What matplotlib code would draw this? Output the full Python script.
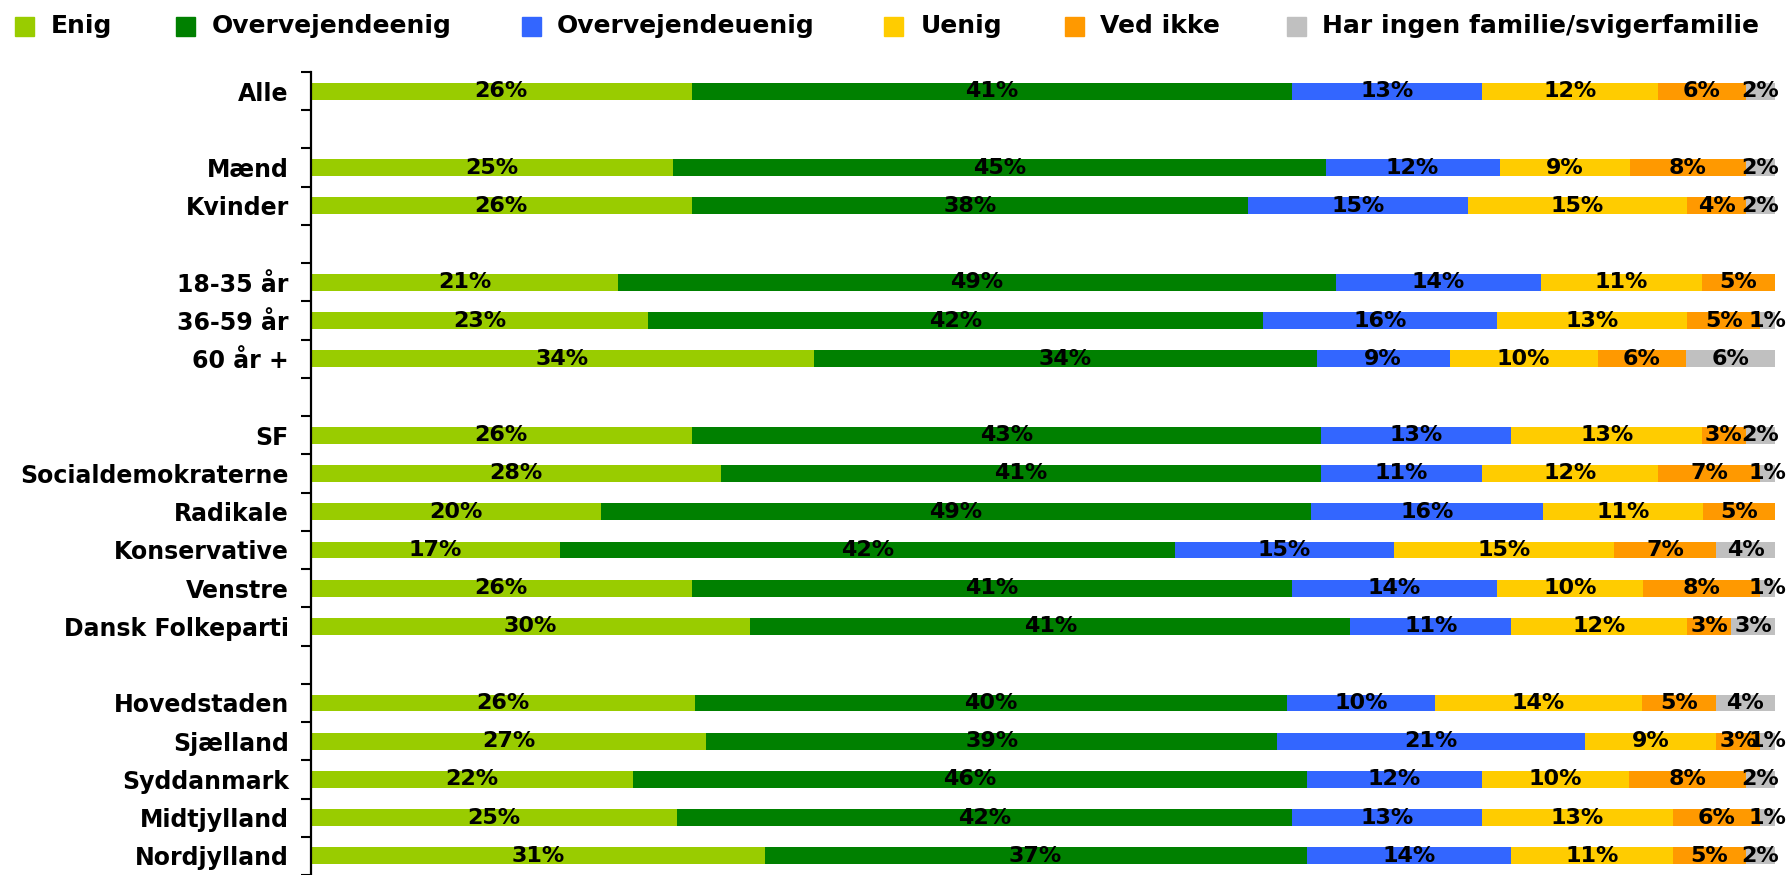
import matplotlib.pyplot as plt
import numpy as np
from matplotlib.patches import Rectangle

plt.rcParams["font.family"] = ["DejaVu Sans"]
plt.rcParams["font.weight"] = "bold"

series = ["Enig", "Overvejendeenig", "Overvejendeuenig", "Uenig", "Ved ikke",
          "Har ingen familie/svigerfamilie"]
colors = ["#99CC00", "#008000", "#3366FF", "#FFCC00", "#FF9900", "#C0C0C0"]

# grupper, adskilt af en tom raekke
groups = [
    ["Alle"],
    ["Mænd", "Kvinder"],
    ["18-35 år", "36-59 år", "60 år +"],
    ["SF", "Socialdemokraterne", "Radikale", "Konservative", "Venstre",
     "Dansk Folkeparti"],
    ["Hovedstaden", "Sjælland", "Syddanmark", "Midtjylland", "Nordjylland"],
]

enig = [26, 25, 26, 21, 23, 34, 26, 28, 20, 17, 26, 30, 26, 27, 22, 25, 31]
overv_enig = [41, 45, 38, 49, 42, 34, 43, 41, 49, 42, 41, 41, 40, 39, 46, 42, 37]
overv_uenig = [13, 12, 15, 14, 16, 9, 13, 11, 16, 15, 14, 11, 10, 21, 12, 13, 14]
uenig = [12, 9, 15, 11, 13, 10, 13, 12, 11, 15, 10, 12, 14, 9, 10, 13, 11]
ved_ikke = [6, 8, 4, 5, 5, 6, 3, 7, 5, 7, 8, 3, 5, 3, 8, 6, 5]
ingen_fam = [2, 2, 2, 0, 1, 6, 2, 1, 0, 4, 1, 3, 4, 1, 2, 1, 2]

values = np.array([enig, overv_enig, overv_uenig, uenig, ved_ikke, ingen_fam], dtype=float)
shares = values / values.sum(axis=0) * 100

labels = []
ypos = []
row = 0
for g in groups:
    for name in g:
        labels.append(name)
        ypos.append(row)
        row += 1
    row += 1
ypos = np.array(ypos)
n_rows = row - 1

W, H = 1792, 875
fig = plt.figure(figsize=(W / 100, H / 100), dpi=100)
ax = fig.add_axes([311 / W, 0, (1775 - 311) / W, 1 - 72 / H])

left = np.zeros(len(labels))
for i in range(len(series)):
    ax.barh(ypos, shares[i], left=left, height=0.44, color=colors[i], zorder=2)
    for y, l, w, v in zip(ypos, left, shares[i], values[i]):
        if v > 0:
            ax.text(l + w / 2, y, f"{int(v)}%", ha="center", va="center",
                    fontsize=16, fontweight="bold", color="black", zorder=3)
    left += shares[i]

ax.set_xlim(0, 100)
ax.set_ylim(n_rows - 0.56, -0.5)
for s in ["top", "right", "bottom"]:
    ax.spines[s].set_visible(False)
ax.spines["left"].set_linewidth(1.6)
ax.set_xticks([])
ax.set_yticks(ypos)
ax.set_yticklabels(labels, fontsize=17, fontweight="bold")
ax.set_yticks(np.arange(-0.5, n_rows, 1.0), minor=True)
ax.tick_params(axis="y", which="major", length=0, pad=16)
ax.tick_params(axis="y", which="minor", length=7, width=1.5, direction="out")

# legende
marker_x = [24.5, 185.5, 531, 893, 1074, 1296]
text_x = [51, 212, 557, 921, 1100, 1322]
ly = 1 - 26 / H
for mx, tx, name, c in zip(marker_x, text_x, series, colors):
    fig.patches.append(Rectangle(((mx - 9.5) / W, ly - 9.5 / H), 19 / W, 19 / H,
                                 transform=fig.transFigure, color=c))
    fig.text(tx / W, ly, name, ha="left", va="center", fontsize=18,
             fontweight="bold")

fig.savefig("out.png", dpi=100)
